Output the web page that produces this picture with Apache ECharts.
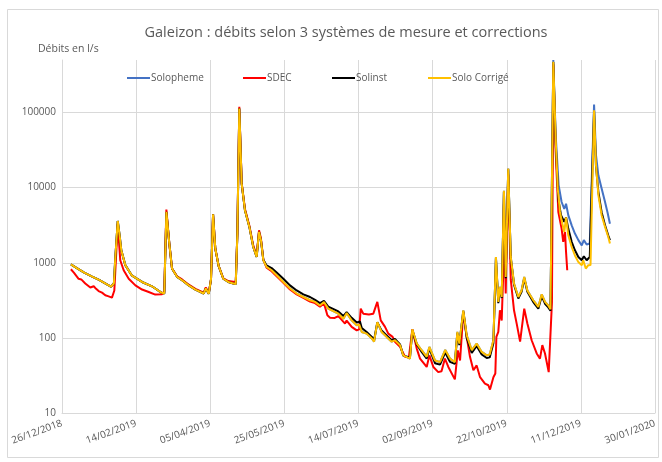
<!DOCTYPE html>
<html><head><meta charset="utf-8">
<script src="https://cdn.jsdelivr.net/npm/echarts@6/dist/echarts.min.js"></script>
<style>html,body{margin:0;padding:0;background:#fff}#c{width:662px;height:462px}</style>
</head><body><div id="c"></div>
<script>
// x = days since 26/12/2018
const startDate = Date.UTC(2018, 11, 26);
const xTickDays = [0, 50, 100, 150, 200, 250, 300, 350, 400];
const yTicks = [10, 100, 1000, 10000, 100000];
const seriesNames = ['Solopheme', 'SDEC', 'Solinst', 'Solo Corrigé'];

const soloCorrige = [[6,950],[10,850],[15,740],[20,660],[25,590],[30,520],[33,480],[34,470],[35,530],[36,1200],[37.6,3600],[39,2200],[40,1465],[42.7,930],[47,680],[54,555],[60.7,486],[67,400],[69,390],[70.4,4750],[72.4,1800],[74.2,840],[77.6,650],[81,585],[85.5,500],[90,440],[95.6,390],[97,455],[99,385],[100.5,600],[101.9,4430],[103.4,1550],[105.7,900],[108.8,612],[112.2,555],[115.6,530],[117.2,519],[118.3,2450],[119.6,113000],[121.2,11300],[123.4,5000],[126.4,3000],[129,1620],[131.3,1195],[132.9,2570],[134.2,2000],[135.8,1080],[138,880],[141.4,794],[144.8,682],[149.3,555],[153.8,454],[158.3,389],[162.8,350],[167.3,317],[170.7,301],[174,270],[176.7,300],[179.6,245],[180.8,233],[186.4,210],[189.8,180],[192,214],[195.4,171],[198.8,147],[200.5,150],[202.2,120],[205.5,114],[209,98],[210.5,89],[212.7,162],[215.6,120],[219,103],[222.4,89],[224.6,93],[228,80],[230.2,58.5],[234.7,53],[236.3,130],[239.3,84],[242.6,68.5],[246,56],[247.8,75.6],[251.6,50],[255,47.6],[258.5,69],[261.7,53],[265,47.6],[266.7,120],[268,84],[270.7,233],[273,108],[276.4,68.5],[279.7,84],[283.1,65],[286.5,58.5],[288.5,60],[291,93],[292.7,1195],[294.3,301],[295.4,477],[296.6,350],[298.1,9100],[299.3,646],[301,17900],[302.7,1195],[304.9,530],[307.8,350],[310,428],[311.8,646],[313.9,428],[317.9,317],[321.3,258],[323.6,380],[325.8,301],[328,270],[329.5,240],[331.4,472000],[333,45100],[334.4,9730],[335.9,4745],[337.5,3300],[338.8,2570],[340,4030],[341.5,2320],[343.8,1620],[346,1250],[348.3,1020],[350.6,927],[351.6,1080],[353.3,837],[355,927],[356.5,930],[358.9,107000],[360.2,19900],[361.8,7950],[364,4300],[366.3,3000],[368.5,2200],[369.6,1800]];

const sdec = [[6,820],[8,740],[11.2,612],[13,600],[15.7,530],[17,520],[19.1,468],[21.4,487],[23,450],[24.7,420],[27,400],[29.2,370],[31,360],[33.7,344],[35.3,428],[36,800],[37.6,3300],[39.3,1080],[41.6,794],[45,612],[49.5,500],[54,440],[58.5,408],[62.9,377],[67.5,381],[69,420],[70.4,5100],[72.4,1800],[74.2,840],[77.6,660],[81,600],[85.5,510],[90,450],[95.6,400],[97,470],[99,395],[100.5,600],[101.9,4400],[103.4,1550],[105.7,900],[108.8,620],[112.2,570],[115.6,560],[117.2,560],[118.3,2500],[119.6,119000],[121.2,11500],[123.4,5200],[126.4,3100],[129,1700],[131.3,1250],[132.9,2700],[134.2,2100],[135.8,1100],[138,860],[141.4,770],[144.8,660],[149.3,540],[153.8,440],[158.3,380],[162.8,340],[167.3,305],[170.7,290],[174,260],[176.7,290],[179,200],[180.8,186],[184,184],[186.4,195],[190.9,155],[192,170],[195.4,140],[198.8,126],[200.5,130],[201.5,245],[203.2,210],[207,205],[210,210],[212.7,301],[215,171],[217.9,140],[220.1,114],[223,103],[224.6,89],[228,76],[231.4,56],[234,55],[236.3,130],[239.3,72],[241.5,53],[246,41],[247.8,58.5],[250.5,41],[253.8,35],[256,36],[258.3,53],[260.6,41],[265,28],[267,68],[268.5,50],[270.7,220],[273,103],[275.2,56],[277.5,37],[279.7,43],[282,30],[285.3,24.6],[287.6,23.4],[288.7,20.5],[291,30],[292.3,33.5],[293,103],[294.3,120],[295.4,233],[296.6,170],[297.7,794],[298.1,6000],[299.3,389],[301,15000],[302.7,600],[304.9,233],[306.7,155],[309,89],[311.8,245],[313.9,155],[316.8,93],[320.2,62],[322.4,53],[324,80],[325.8,62],[328.3,35],[329.5,33],[330.5,300],[331.4,440000],[333,30000],[334.8,4745],[337,2850],[338.1,1900],[339.3,2570],[340,1390],[340.8,794]];

const solinstOwn = [[135.8,1100],[138,920],[141.4,850],[144.8,740],[149.3,612],[153.8,500],[158.3,428],[162.8,380],[167.3,350],[170.7,320],[174,290],[176.7,310],[179.6,260],[180.8,245],[186.4,225],[189.8,195],[192,220],[195.4,185],[198.8,160],[201,165],[202.2,135],[205.5,120],[209,103],[210.5,93],[212.7,160],[215.6,125],[219,108],[222.4,93],[224.6,97],[228,82],[230.2,58],[234.7,55],[236.3,125],[239.3,82],[242.6,65],[246,53],[247.8,72],[251.6,46],[255,44],[258.5,64],[261.7,48],[265,45],[266.7,115],[268,80],[270.7,225],[273,100],[276.4,63],[279.7,78],[283.1,60],[286.5,54],[288.5,55],[291,85],[292.7,1150],[294.3,290],[295.4,460],[296.6,340],[298.1,8800],[299.3,620],[301,17500],[302.7,1150],[304.9,510],[307.8,335],[310,410],[311.8,620],[313.9,410],[317.9,300],[321.3,245],[323.6,360],[325.8,285],[328,255],[329.5,230],[331.4,470000],[333,40000],[334.8,7000],[336.6,4300],[338.8,3500],[340,4030],[341.5,2850],[343.8,1900],[346,1465],[348.3,1195],[350.6,1080],[352,1220],[353.9,1080],[356,1195],[358.9,105000],[360.2,19000],[361.8,8800],[364,4700],[366.3,3150],[368.5,2300],[369.6,2000]];

const solophemeOwn = [[331.4,498000],[333,50000],[335,10800],[337,6440],[338.8,5200],[340,6100],[341.5,4300],[343.8,3150],[346,2450],[348.3,2000],[350.6,1700],[352,2000],[353.9,1750],[356,1800],[358.9,128000],[360.2,27000],[361.8,14600],[364,9730],[366.3,6440],[368.1,4550],[369.6,3300]];

const solinst = soloCorrige.filter(d => d[0] < 135).concat(solinstOwn);
const solopheme = soloCorrige.filter(d => d[0] < 331).concat(solophemeOwn);

const colors = ['#4472C4', '#FF0000', '#000000', '#FFC000'];
const datas = [solopheme, sdec, solinst, soloCorrige];
const legendLefts = [127, 243, 332, 428];

function fmtDate(d) {
  const t = new Date(startDate + d * 86400000);
  const p = n => (n < 10 ? '0' : '') + n;
  return p(t.getUTCDate()) + '/' + p(t.getUTCMonth() + 1) + '/' + t.getUTCFullYear();
}

const chart = echarts.init(document.getElementById('c'), null, {renderer: 'canvas'});
const FONT = '"Open Sans", "Noto Sans", sans-serif';
chart.setOption({
  animation: false,
  backgroundColor: '#fff',
  textStyle: {fontFamily: FONT},
  title: {
    text: 'Galeizon : débits selon 3 systèmes de mesure et corrections',
    left: 341, top: 20, textAlign: 'center',
    textStyle: {fontSize: 14.5, fontWeight: 'normal', color: '#595959', fontFamily: FONT}
  },
  graphic: [
    {type: 'rect', shape: {x: 7.5, y: 9.5, width: 651, height: 448}, style: {fill: 'none', stroke: '#d9d9d9', lineWidth: 1}, silent: true, z: -1},
    {type: 'text', left: 38, top: 44, style: {text: 'Débits en l/s', fontSize: 10.5, fill: '#595959', fontFamily: FONT}}
  ],
  legend: seriesNames.map((n, i) => ({
    data: [n], left: legendLefts[i], top: 73, padding: 0, icon: 'rect', itemWidth: 23, itemHeight: 2, itemGap: 2,
    textStyle: {fontSize: 10, color: '#595959', fontFamily: FONT, padding: [0, 0, 0, -4]}
  })),
  grid: {left: 62, right: 7, top: 60, bottom: 49, containLabel: false},
  xAxis: {
    type: 'value', min: 0, max: 400, interval: 50,
    axisLine: {show: true, lineStyle: {color: '#d9d9d9'}},
    axisTick: {show: false},
    splitLine: {show: true, lineStyle: {color: '#d9d9d9', width: 1}},
    axisLabel: {rotate: 20, fontSize: 10, color: '#595959', margin: 10, formatter: v => fmtDate(v), fontFamily: FONT}
  },
  yAxis: {
    type: 'log', logBase: 10, min: 10, max: 500000,
    axisLine: {show: true, lineStyle: {color: '#d9d9d9'}},
    axisTick: {show: false},
    splitLine: {show: true, showMaxLine: false, lineStyle: {color: '#d9d9d9', width: 1}},
    axisLabel: {fontSize: 10, color: '#595959', margin: 6, showMaxLabel: false, fontFamily: FONT,
      formatter: v => (yTicks.indexOf(Math.round(v)) >= 0 ? String(Math.round(v)) : '')}
  },
  series: seriesNames.map((n, i) => ({
    name: n, type: 'line', data: datas[i], showSymbol: false, symbol: 'none',
    lineStyle: {color: colors[i], width: 2}, itemStyle: {color: colors[i]}, z: 2 + i
  }))
});
</script></body></html>
